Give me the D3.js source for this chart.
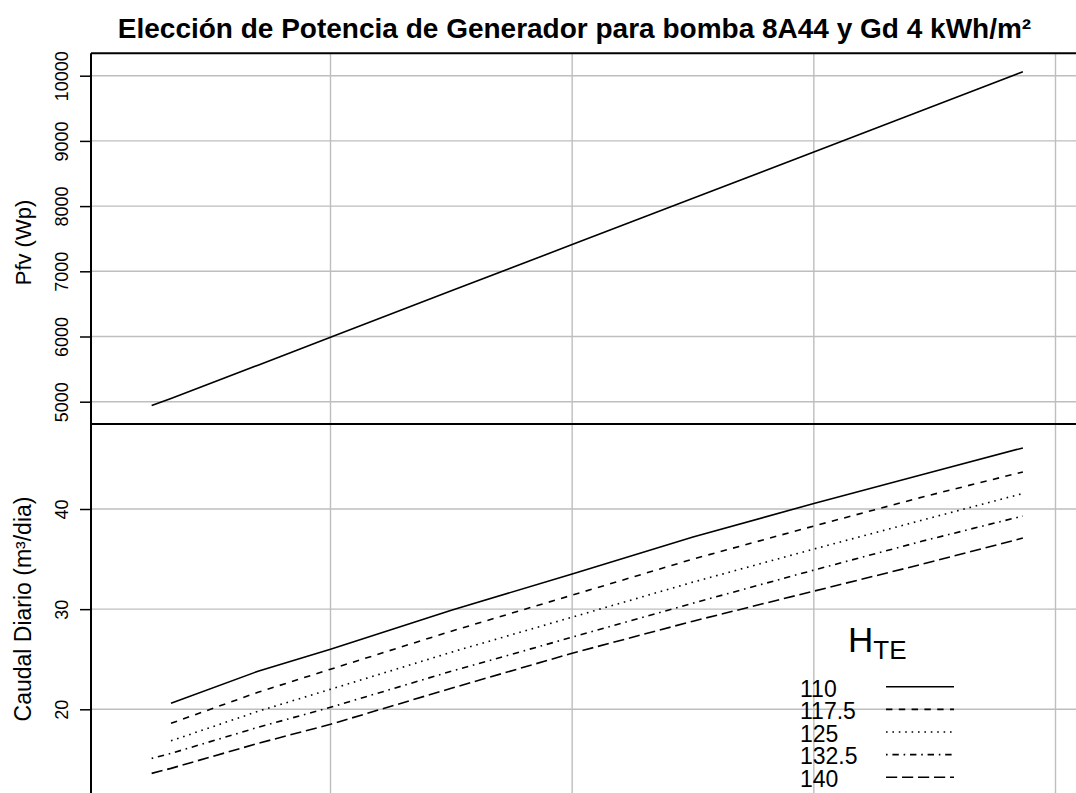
<!DOCTYPE html>
<html>
<head>
<meta charset="utf-8">
<script src="https://cdn.jsdelivr.net/npm/d3@7"></script>
<style>
  body { margin: 0; background: #fff; }
  svg { display: block; }
  text { font-family: "Liberation Sans", Arial, Helvetica, sans-serif; fill: #000; }
</style>
</head>
<body>
<svg id="chart" width="1076" height="793"></svg>
<script>
// ---- Datos ----
const titulo = "Elección de Potencia de Generador para bomba 8A44 y Gd 4 kWh/m²";
const etiquetaPfv = "Pfv (Wp)";
const etiquetaCaudal = "Caudal Diario (m³/dia)";

// Eje horizontal común (sin rotular), en kW
const potencia = [1.26, 1.34, 1.7, 2, 2.5, 3, 3.5, 4, 4.45, 4.865];
const ticksPotencia = [2, 3, 4, 5];

// Panel superior: potencia del generador fotovoltaico
const pfv = [4940, 5050, 5560, 5990, 6700, 7410, 8120, 8830, 9470, 10060];
const ticksPfv = [5000, 6000, 7000, 8000, 9000, 10000];

// Panel inferior: caudal diario para cada altura total equivalente
const alturas = ["110", "117.5", "125", "132.5", "140"];
const caudal110   = [null, 20.6, 23.8, 26.0, 29.9, 33.5, 37.2, 40.55, 43.45, 46.1];
const caudal117_5 = [null, 18.6, 21.7, 24.0, 27.8, 31.4, 35.0, 38.3, 41.2, 43.7];
const caudal125   = [null, 16.85, 19.8, 22.0, 25.7, 29.2, 32.7, 36.0, 38.9, 41.55];
const caudal132_5 = [15.1, 15.6, 18.2, 20.2, 23.8, 27.2, 30.6, 33.9, 36.8, 39.3];
const caudal140   = [13.6, 14.1, 16.6, 18.5, 22.1, 25.6, 28.8, 31.8, 34.5, 37.1];
const ticksCaudal = [20, 30, 40];

const caudales = [caudal110, caudal117_5, caudal125, caudal132_5, caudal140];

// ---- Estilo de línea (lty de R: 1, 2, 3, 4, 5) ----
const lw = 1.6;
const tipos = [null, [4, 4], [1, 3], [1, 3, 4, 3], [7, 3]]
  .map(d => d ? d.map(v => v * lw).join(",") : null);

// ---- Geometría ----
const svg = d3.select("#chart");
const izq = 91, der = 1100;
const supTop = 53.3, division = 424, infBottom = 810;

const x = d3.scaleLinear().domain([2, 5]).range([330.5, 1055.5]);
const ySup = d3.scaleLinear().domain([5000, 10000]).range([401.7, 75.7]);
const yInf = d3.scaleLinear().domain([20, 40]).range([709.3, 509]);

const defs = svg.append("defs");
defs.append("clipPath").attr("id", "clipSup")
  .append("rect").attr("x", izq).attr("y", supTop).attr("width", der - izq).attr("height", division - supTop);
defs.append("clipPath").attr("id", "clipInf")
  .append("rect").attr("x", izq).attr("y", division).attr("width", der - izq).attr("height", infBottom - division);

// Título
svg.append("text")
  .attr("x", 574.5).attr("y", 38)
  .attr("text-anchor", "middle")
  .attr("font-size", 28).attr("font-weight", "bold")
  .text(titulo);

// Rejilla
const gris = "#bebebe";
function rejilla(clip, y, ticks) {
  const g = svg.append("g").attr("clip-path", `url(#${clip})`);
  g.selectAll("line.h").data(ticks).join("line")
    .attr("x1", izq).attr("x2", der)
    .attr("y1", d => y(d)).attr("y2", d => y(d))
    .attr("stroke", gris).attr("stroke-width", 1.4);
  g.selectAll("line.v").data(ticksPotencia).join("line")
    .attr("x1", d => x(d)).attr("x2", d => x(d))
    .attr("y1", 0).attr("y2", 900)
    .attr("stroke", gris).attr("stroke-width", 1.4);
}
rejilla("clipSup", ySup, ticksPfv);
rejilla("clipInf", yInf, ticksCaudal);

// Ejes verticales con etiquetas giradas
function eje(y, ticks) {
  const g = svg.append("g").attr("transform", `translate(${izq},0)`)
    .call(d3.axisLeft(y).tickValues(ticks).tickSize(11).tickFormat(d3.format("d")));
  g.select(".domain").remove();
  g.selectAll(".tick line").attr("stroke", "#000").attr("stroke-width", 1.5);
  g.selectAll(".tick text")
    .attr("x", 0).attr("dy", 0)
    .attr("text-anchor", "middle")
    .attr("transform", "translate(-22.7,0) rotate(-90)")
    .attr("font-size", 18)
    .attr("font-family", '"Liberation Sans", Arial, sans-serif')
    .attr("fill", "#000");
}
eje(ySup, ticksPfv);
eje(yInf, ticksCaudal);

// Títulos de eje
svg.append("text")
  .attr("transform", "translate(30.5,242.5) rotate(-90)")
  .attr("text-anchor", "middle").attr("font-size", 22)
  .text(etiquetaPfv);
svg.append("text")
  .attr("transform", "translate(30.5,609) rotate(-90)")
  .attr("text-anchor", "middle").attr("font-size", 23)
  .text(etiquetaCaudal);

// Panel superior: Pfv
const lineaSup = d3.line().x((d, i) => x(potencia[i])).y(d => ySup(d));
svg.append("path")
  .attr("clip-path", "url(#clipSup)")
  .attr("d", lineaSup(pfv))
  .attr("fill", "none").attr("stroke", "#000").attr("stroke-width", lw);

// Panel inferior: caudal por altura
const lineaInf = d3.line()
  .defined(d => d != null)
  .x((d, i) => x(potencia[i])).y(d => yInf(d));
svg.append("g").attr("clip-path", "url(#clipInf)")
  .selectAll("path").data(caudales).join("path")
  .attr("d", d => lineaInf(d))
  .attr("fill", "none").attr("stroke", "#000").attr("stroke-width", lw)
  .attr("stroke-dasharray", (d, i) => tipos[i]);

// Bordes de los paneles
const borde = svg.append("g").attr("stroke", "#000").attr("stroke-width", 2).attr("fill", "none");
borde.append("line").attr("x1", izq).attr("x2", der).attr("y1", supTop).attr("y2", supTop);
borde.append("line").attr("x1", izq).attr("x2", der).attr("y1", division).attr("y2", division);
borde.append("line").attr("x1", izq).attr("x2", izq).attr("y1", supTop).attr("y2", infBottom);

// Leyenda
const ley = svg.append("g");
const tituloLey = ley.append("text").attr("x", 848).attr("y", 652).attr("font-size", 35);
tituloLey.append("tspan").text("H");
tituloLey.append("tspan").attr("dy", 7).attr("font-size", 26).text("TE");

const filas = ley.selectAll("g.fila").data(alturas).join("g")
  .attr("transform", (d, i) => `translate(0,${688.3 + i * 22.6})`);
filas.append("text")
  .attr("x", 800).attr("y", 8.2).attr("font-size", 23)
  .text(d => d);
filas.append("line")
  .attr("x1", 886).attr("x2", 954).attr("y1", -1.5).attr("y2", -1.5)
  .attr("stroke", "#000").attr("stroke-width", lw)
  .attr("stroke-dasharray", (d, i) => tipos[i]);
</script>
</body>
</html>
